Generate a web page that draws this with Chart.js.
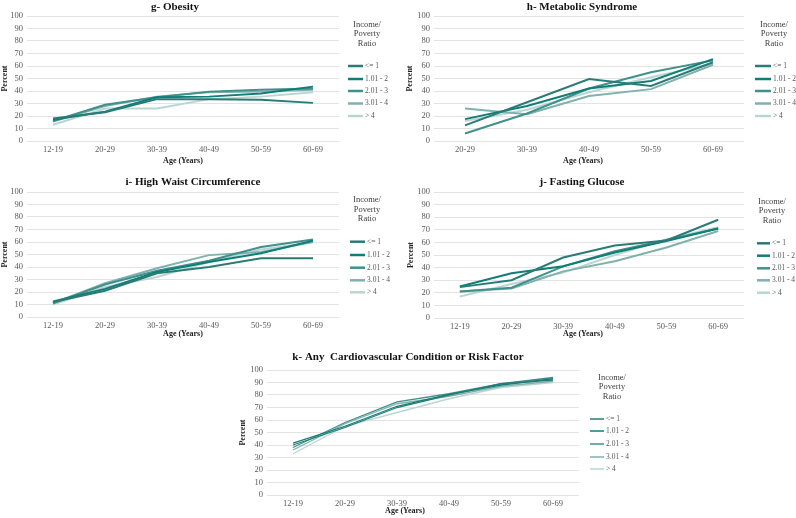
<!DOCTYPE html>
<html>
<head>
<meta charset="utf-8">
<script src="https://cdn.jsdelivr.net/npm/chart.js@4/dist/chart.umd.min.js"></script>
<style>
  html, body { margin: 0; padding: 0; background: #ffffff; }
  #wrap { position: relative; width: 796px; height: 518px; overflow: hidden; }
  canvas { position: absolute; }
</style>
</head>
<body>
<div id="wrap">
  <canvas id="cg" width="400" height="170" style="left:0px;top:0px;width:400px;height:170px"></canvas>
  <canvas id="ch" width="396" height="170" style="left:400px;top:0px;width:396px;height:170px"></canvas>
  <canvas id="ci" width="400" height="170" style="left:0px;top:175px;width:400px;height:170px"></canvas>
  <canvas id="cj" width="396" height="170" style="left:400px;top:175px;width:396px;height:170px"></canvas>
  <canvas id="ck" width="460" height="168" style="left:200px;top:350px;width:460px;height:168px"></canvas>
</div>
<script>
// ---- categories & labels ----
const agesFull = ['12-19', '20-29', '30-39', '40-49', '50-59', '60-69'];
const agesAdult = ['20-29', '30-39', '40-49', '50-59', '60-69'];
const seriesLabels = ['<= 1', '1.01 - 2', '2.01 - 3', '3.01 - 4', '> 4'];
const legendTitle = ['Income/', 'Poverty', 'Ratio'];
const panelTitles = ['g- Obesity', 'h- Metabolic Syndrome', 'i- High Waist Circumference', 'j- Fasting Glucose', 'k- Any  Cardiovascular Condition or Risk Factor'];
const yTitle = 'Percent';
const xTitle = 'Age (Years)';

// ---- g- Obesity ----
const obesityLe1 = [18, 23, 33.5, 33.5, 33, 30.5];
const obesity1to2 = [17, 23.5, 35, 35.5, 38, 43.5];
const obesity2to3 = [16, 29, 35, 39.5, 41, 42];
const obesity3to4 = [15.5, 28, 35.5, 39, 39.5, 41];
const obesityGt4 = [13, 26, 26, 33.5, 35.5, 39];

// ---- h- Metabolic Syndrome ----
const metabLe1 = [12.5, 31, 49.5, 44, 63];
const metab1to2 = [17.5, 28, 42, 48, 65.5];
const metab2to3 = [6, 22, 42, 55, 64.5];
const metab3to4 = [26, 21.5, 36, 41.5, 61];
const metabGt4 = [16, 25, 39, 51, 62];

// ---- i- High Waist Circumference ----
const waistLe1 = [12, 21, 35, 40, 47, 47];
const waist1to2 = [12.5, 22.5, 36, 44, 51, 61];
const waist2to3 = [11, 26, 37, 45, 56, 62];
const waist3to4 = [11, 27, 39, 49.5, 52, 60];
const waistGt4 = [10, 24, 32, 44, 54, 60];

// ---- j- Fasting Glucose ----
const glucLe1 = [24.5, 30, 48, 57.5, 61.5, 78];
const gluc1to2 = [25, 35.5, 41, 52, 61, 71];
const gluc2to3 = [21, 24, 41, 53, 62, 71];
const gluc3to4 = [21, 23.5, 37, 45, 56, 69];
const glucGt4 = [17, 27, 36, 50, 62.5, 72];

// ---- k- Any Cardiovascular Condition or Risk Factor ----
const cvdLe1 = [40, 54, 70, 80, 89, 92];
const cvd1to2 = [41.5, 55, 71, 80.5, 88, 93];
const cvd2to3 = [38, 58, 74.5, 81, 89, 94];
const cvd3to4 = [36, 57, 73, 79, 87, 91];
const cvdGt4 = [33, 55, 66, 77, 86, 90];

const yMin = 0, yMax = 100, yStep = 10;

// ---- styles ----
const palette = ['#2a7b76', '#0f7e77', '#40908b', '#80b1ad', '#b9d6d3'];
const SERIF = '"Liberation Serif", "DejaVu Serif", serif';

Chart.defaults.font.family = SERIF;
Chart.defaults.font.size = 8.5;
Chart.defaults.color = '#595959';

const deco = {
  id: 'deco',
  afterDraw(chart, args, o) {
    const ctx = chart.ctx;
    const ca = chart.chartArea;
    ctx.save();
    // panel title
    ctx.fillStyle = '#111111';
    ctx.font = 'bold 11px ' + SERIF;
    ctx.textAlign = 'center';
    ctx.textBaseline = 'middle';
    ctx.fillText(o.title, o.titleX, o.titleY);
    // axis titles
    ctx.font = 'bold 8px ' + SERIF;
    ctx.fillStyle = '#222222';
    ctx.fillText(xTitle, o.xTitleX, o.xTitleY);
    ctx.save();
    ctx.translate(o.yTitleX, (ca.top + ca.bottom) / 2);
    ctx.rotate(-Math.PI / 2);
    ctx.fillText(yTitle, 0, 0);
    ctx.restore();
    // legend title
    ctx.font = '8.5px ' + SERIF;
    ctx.fillStyle = '#404040';
    legendTitle.forEach((t, i) => ctx.fillText(t, o.legTitleX, o.legTitleYs[i]));
    // legend items
    ctx.textAlign = 'left';
    ctx.font = '7.5px ' + SERIF;
    chart.data.datasets.forEach((ds, i) => {
      const y = o.legYs[i];
      ctx.strokeStyle = ds.borderColor;
      ctx.lineWidth = o.legLW;
      ctx.beginPath();
      ctx.moveTo(o.legX1, y);
      ctx.lineTo(o.legX2, y);
      ctx.stroke();
      ctx.fillStyle = '#595959';
      ctx.fillText(ds.label, o.legTextX, y);
    });
    ctx.restore();
  }
};

function makeChart(id, labels, seriesData, box, decoOpts, lineWidth) {
  const canvas = document.getElementById(id);
  const W = canvas.width, H = canvas.height;
  const yW = 22, xH = 18;
  const datasets = seriesData.map((d, i) => ({
    label: seriesLabels[i],
    data: d,
    borderColor: palette[i],
    backgroundColor: palette[i],
    borderWidth: lineWidth,
    pointRadius: 0,
    tension: 0,
    fill: false
  }));
  return new Chart(canvas, {
    type: 'line',
    data: { labels: labels, datasets: datasets },
    options: {
      responsive: false,
      devicePixelRatio: 1,
      animation: false,
      events: [],
      layout: {
        padding: { left: box.L - yW, right: W - box.R, top: box.T, bottom: H - box.B - xH }
      },
      plugins: {
        legend: { display: false },
        title: { display: false },
        tooltip: { enabled: false },
        deco: decoOpts
      },
      scales: {
        x: {
          type: 'category',
          offset: true,
          grid: { display: false, drawTicks: false },
          border: { display: false },
          ticks: { padding: 4, maxRotation: 0, autoSkip: false, color: '#595959', font: { size: 8.5 } },
          afterFit(s) { s.height = xH; }
        },
        y: {
          min: yMin, max: yMax,
          grid: { color: '#e3e3e3', lineWidth: 1, drawTicks: false },
          border: { display: false },
          ticks: { stepSize: yStep, autoSkip: false, padding: 4, color: '#595959', font: { size: 8.5 } },
          afterFit(s) { s.width = yW; }
        }
      }
    },
    plugins: [deco]
  });
}

makeChart('cg', agesFull, [obesityLe1, obesity1to2, obesity2to3, obesity3to4, obesityGt4],
  { L: 27, R: 339, T: 16, B: 141 },
  { title: panelTitles[0], titleX: 175, titleY: 7, xTitleX: 183, xTitleY: 161, yTitleX: 5,
    legTitleX: 367, legTitleYs: [24.5, 34, 43.5], legX1: 348, legX2: 363, legTextX: 365,
    legYs: [66, 79, 91, 103.5, 116], legLW: 2.5 }, 2);

makeChart('ch', agesAdult, [metabLe1, metab1to2, metab2to3, metab3to4, metabGt4],
  { L: 34, R: 344, T: 16, B: 141 },
  { title: panelTitles[1], titleX: 182, titleY: 7, xTitleX: 183, xTitleY: 161, yTitleX: 10,
    legTitleX: 374, legTitleYs: [24.5, 34, 43.5], legX1: 355, legX2: 371, legTextX: 373,
    legYs: [66, 79, 91, 103.5, 116], legLW: 2.5 }, 2);

makeChart('ci', agesFull, [waistLe1, waist1to2, waist2to3, waist3to4, waistGt4],
  { L: 27, R: 339, T: 17, B: 142 },
  { title: panelTitles[2], titleX: 193, titleY: 7, xTitleX: 183, xTitleY: 159, yTitleX: 5,
    legTitleX: 367, legTitleYs: [25, 35, 44], legX1: 350, legX2: 365, legTextX: 367,
    legYs: [66.7, 80, 92.7, 105.3, 117.3], legLW: 2.5 }, 2);

makeChart('cj', agesFull, [glucLe1, gluc1to2, gluc2to3, gluc3to4, glucGt4],
  { L: 34, R: 344, T: 17, B: 143 },
  { title: panelTitles[3], titleX: 182, titleY: 7, xTitleX: 183, xTitleY: 159, yTitleX: 11,
    legTitleX: 372, legTitleYs: [26.7, 36, 45.7], legX1: 357, legX2: 370, legTextX: 372,
    legYs: [68.3, 80.7, 93.3, 105.3, 117.7], legLW: 2.5 }, 2);

makeChart('ck', agesFull, [cvdLe1, cvd1to2, cvd2to3, cvd3to4, cvdGt4],
  { L: 67, R: 379, T: 20, B: 145 },
  { title: panelTitles[4], titleX: 208, titleY: 7, xTitleX: 205, xTitleY: 161, yTitleX: 43,
    legTitleX: 412, legTitleYs: [28, 37, 47], legX1: 390, legX2: 404, legTextX: 406,
    legYs: [69, 81, 94, 107, 119], legLW: 1.5 }, 1.3);
</script>
</body>
</html>
